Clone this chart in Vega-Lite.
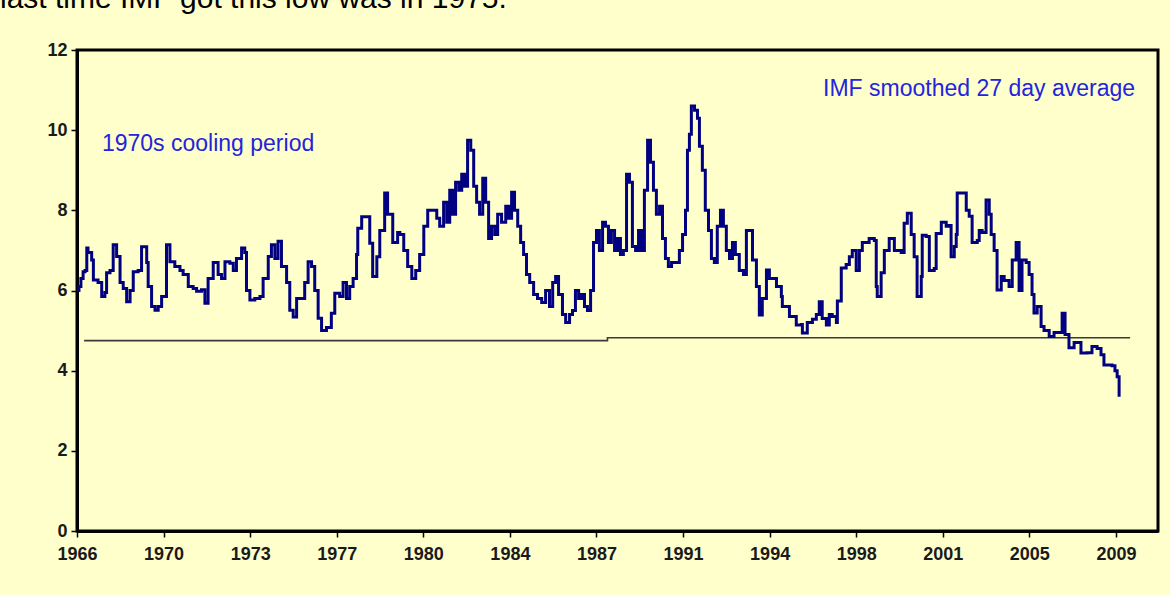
{
  "$schema": "https://vega.github.io/schema/vega-lite/v6.json",
  "width": 1081,
  "height": 481,
  "autosize": {"type": "none"},
  "padding": {"left": 77, "top": 50, "right": 12, "bottom": 64},
  "background": "#FFFFCC",
  "config": {
    "view": {"stroke": "#000000", "strokeWidth": 3},
    "font": "Liberation Sans",
    "axis": {"grid": false, "domainColor": "#000000", "domainWidth": 3, "tickColor": "#000000", "tickWidth": 1.5, "tickSize": 6, "labelFont": "Liberation Sans", "labelFontWeight": "bold", "labelFontSize": 18, "labelColor": "#1a1a1a", "labelFlush": false}
  },
  "title": {
    "text": "last time IMF  got this low was in 1975.",
    "anchor": "start",
    "frame": "group",
    "font": "Liberation Sans",
    "fontSize": 30,
    "fontWeight": "normal",
    "color": "#000000",
    "baseline": "alphabetic",
    "offset": 20,
    "dx": -77,
    "dy": 17
  },
  "layer": [
    {
      "data": {"values": [
        {"t": 1966.84, "v": 4.75}, {"t": 1988.24, "v": 4.75}, {"t": 1988.24, "v": 4.82}, {"t": 2009.61, "v": 4.82}
      ]},
      "mark": {"type": "line", "color": "#3a3a3a", "strokeWidth": 1.6},
      "encoding": {
        "x": {"field": "t", "type": "quantitative", "title": null, "scale": {"domain": [1966.55, 2010.75], "nice": false, "zero": false},
              "axis": {"values": [1966.55, 1970.09, 1973.63, 1977.17, 1980.71, 1984.25, 1987.79, 1991.33, 1994.87, 1998.41, 2001.95, 2005.49, 2009.03], "labelExpr": "toString(floor(datum.value))", "labelPadding": 8}},
        "y": {"field": "v", "type": "quantitative", "title": null, "scale": {"domain": [0, 12], "nice": false},
              "axis": {"values": [0, 2, 4, 6, 8, 10, 12], "format": "d", "labelPadding": 4}}
      }
    },
    {
      "data": {"values": [
        {"t":1966.55,"v":6.0},{"t":1966.63,"v":6.1},{"t":1966.71,"v":6.3},{"t":1966.80,"v":6.47},{"t":1966.88,"v":6.5},{"t":1966.95,"v":7.06},{"t":1967.00,"v":6.95},{"t":1967.15,"v":6.76},{"t":1967.22,"v":6.26},{"t":1967.41,"v":6.2},{"t":1967.56,"v":5.85},{"t":1967.69,"v":5.95},{"t":1967.76,"v":6.44},{"t":1967.90,"v":6.5},{"t":1968.03,"v":7.14},{"t":1968.17,"v":6.85},{"t":1968.31,"v":6.2},{"t":1968.44,"v":6.05},{"t":1968.58,"v":5.72},{"t":1968.72,"v":6.0},{"t":1968.85,"v":6.47},{"t":1969.05,"v":6.5},{"t":1969.19,"v":7.09},{"t":1969.40,"v":6.7},{"t":1969.46,"v":6.1},{"t":1969.60,"v":5.6},{"t":1969.74,"v":5.51},{"t":1969.87,"v":5.6},{"t":1970.01,"v":5.85},{"t":1970.21,"v":7.14},{"t":1970.35,"v":6.72},{"t":1970.55,"v":6.6},{"t":1970.76,"v":6.5},{"t":1970.89,"v":6.4},{"t":1971.10,"v":6.1},{"t":1971.30,"v":6.05},{"t":1971.44,"v":5.98},{"t":1971.64,"v":6.02},{"t":1971.78,"v":5.68},{"t":1971.91,"v":6.3},{"t":1972.12,"v":6.7},{"t":1972.32,"v":6.4},{"t":1972.46,"v":6.3},{"t":1972.60,"v":6.72},{"t":1972.80,"v":6.68},{"t":1972.94,"v":6.5},{"t":1973.07,"v":6.8},{"t":1973.28,"v":7.06},{"t":1973.41,"v":6.95},{"t":1973.48,"v":6.0},{"t":1973.62,"v":5.76},{"t":1973.82,"v":5.8},{"t":1974.03,"v":5.85},{"t":1974.16,"v":6.3},{"t":1974.37,"v":6.85},{"t":1974.50,"v":7.14},{"t":1974.64,"v":6.8},{"t":1974.77,"v":7.23},{"t":1974.91,"v":6.6},{"t":1975.12,"v":6.2},{"t":1975.25,"v":5.51},{"t":1975.39,"v":5.34},{"t":1975.53,"v":5.8},{"t":1975.73,"v":5.8},{"t":1975.86,"v":6.2},{"t":1976.00,"v":6.72},{"t":1976.14,"v":6.6},{"t":1976.27,"v":6.0},{"t":1976.41,"v":5.31},{"t":1976.55,"v":5.0},{"t":1976.75,"v":5.08},{"t":1976.95,"v":5.43},{"t":1977.09,"v":5.93},{"t":1977.29,"v":5.85},{"t":1977.43,"v":6.2},{"t":1977.57,"v":5.8},{"t":1977.70,"v":6.1},{"t":1977.84,"v":6.3},{"t":1977.98,"v":6.9},{"t":1978.03,"v":7.55},{"t":1978.19,"v":7.84},{"t":1978.36,"v":7.84},{"t":1978.52,"v":7.18},{"t":1978.64,"v":6.35},{"t":1978.81,"v":6.84},{"t":1978.93,"v":7.5},{"t":1979.13,"v":8.43},{"t":1979.25,"v":7.9},{"t":1979.46,"v":7.2},{"t":1979.66,"v":7.45},{"t":1979.75,"v":7.4},{"t":1979.91,"v":7.0},{"t":1980.07,"v":6.6},{"t":1980.24,"v":6.3},{"t":1980.40,"v":6.5},{"t":1980.56,"v":6.9},{"t":1980.73,"v":7.6},{"t":1980.89,"v":8.0},{"t":1981.09,"v":8.0},{"t":1981.26,"v":7.8},{"t":1981.38,"v":7.6},{"t":1981.54,"v":8.2},{"t":1981.67,"v":7.7},{"t":1981.79,"v":8.5},{"t":1981.91,"v":7.9},{"t":1982.03,"v":8.7},{"t":1982.16,"v":8.5},{"t":1982.28,"v":8.9},{"t":1982.40,"v":8.6},{"t":1982.52,"v":9.75},{"t":1982.65,"v":9.5},{"t":1982.77,"v":8.6},{"t":1982.89,"v":8.2},{"t":1983.01,"v":7.9},{"t":1983.14,"v":8.8},{"t":1983.26,"v":8.2},{"t":1983.38,"v":7.3},{"t":1983.50,"v":7.6},{"t":1983.63,"v":7.4},{"t":1983.75,"v":7.9},{"t":1983.91,"v":7.7},{"t":1984.08,"v":8.1},{"t":1984.20,"v":7.8},{"t":1984.32,"v":8.45},{"t":1984.44,"v":8.0},{"t":1984.57,"v":7.6},{"t":1984.69,"v":7.2},{"t":1984.81,"v":6.9},{"t":1984.93,"v":6.4},{"t":1985.06,"v":6.2},{"t":1985.22,"v":5.9},{"t":1985.38,"v":5.8},{"t":1985.55,"v":5.7},{"t":1985.71,"v":6.0},{"t":1985.87,"v":5.6},{"t":1986.00,"v":6.2},{"t":1986.12,"v":6.35},{"t":1986.24,"v":5.9},{"t":1986.40,"v":5.4},{"t":1986.53,"v":5.2},{"t":1986.69,"v":5.4},{"t":1986.81,"v":5.5},{"t":1986.93,"v":6.0},{"t":1987.06,"v":5.8},{"t":1987.18,"v":5.9},{"t":1987.30,"v":5.6},{"t":1987.42,"v":5.5},{"t":1987.55,"v":6.0},{"t":1987.67,"v":7.2},{"t":1987.79,"v":7.5},{"t":1987.91,"v":7.0},{"t":1988.04,"v":7.7},{"t":1988.16,"v":7.6},{"t":1988.28,"v":7.2},{"t":1988.40,"v":7.5},{"t":1988.53,"v":7.0},{"t":1988.65,"v":7.3},{"t":1988.77,"v":6.9},{"t":1988.89,"v":7.0},{"t":1989.02,"v":8.9},{"t":1989.14,"v":8.7},{"t":1989.26,"v":7.1},{"t":1989.39,"v":7.0},{"t":1989.51,"v":7.5},{"t":1989.63,"v":7.0},{"t":1989.75,"v":8.5},{"t":1989.88,"v":9.75},{"t":1990.00,"v":9.2},{"t":1990.12,"v":8.5},{"t":1990.24,"v":7.9},{"t":1990.37,"v":8.1},{"t":1990.49,"v":7.3},{"t":1990.61,"v":6.8},{"t":1990.73,"v":6.6},{"t":1990.86,"v":6.7},{"t":1991.02,"v":6.7},{"t":1991.18,"v":7.0},{"t":1991.31,"v":7.4},{"t":1991.43,"v":8.0},{"t":1991.51,"v":9.5},{"t":1991.59,"v":9.9},{"t":1991.67,"v":10.6},{"t":1991.80,"v":10.5},{"t":1991.92,"v":10.3},{"t":1992.00,"v":9.6},{"t":1992.12,"v":9.0},{"t":1992.24,"v":8.0},{"t":1992.37,"v":7.5},{"t":1992.49,"v":6.8},{"t":1992.61,"v":6.7},{"t":1992.73,"v":7.6},{"t":1992.86,"v":8.0},{"t":1992.98,"v":7.6},{"t":1993.10,"v":7.0},{"t":1993.23,"v":6.8},{"t":1993.35,"v":7.2},{"t":1993.47,"v":6.9},{"t":1993.63,"v":6.5},{"t":1993.80,"v":6.4},{"t":1993.92,"v":7.5},{"t":1994.04,"v":7.5},{"t":1994.17,"v":6.76},{"t":1994.33,"v":6.1},{"t":1994.45,"v":5.39},{"t":1994.57,"v":5.8},{"t":1994.74,"v":6.51},{"t":1994.86,"v":6.3},{"t":1995.15,"v":6.1},{"t":1995.35,"v":5.85},{"t":1995.39,"v":5.6},{"t":1995.59,"v":5.6},{"t":1995.68,"v":5.35},{"t":1995.88,"v":5.35},{"t":1995.96,"v":5.14},{"t":1996.17,"v":5.15},{"t":1996.21,"v":4.94},{"t":1996.41,"v":5.2},{"t":1996.62,"v":5.28},{"t":1996.78,"v":5.4},{"t":1996.90,"v":5.72},{"t":1997.02,"v":5.3},{"t":1997.19,"v":5.14},{"t":1997.31,"v":5.4},{"t":1997.43,"v":5.35},{"t":1997.60,"v":5.2},{"t":1997.64,"v":5.74},{"t":1997.80,"v":6.56},{"t":1998.00,"v":6.65},{"t":1998.13,"v":6.84},{"t":1998.25,"v":7.0},{"t":1998.41,"v":6.5},{"t":1998.54,"v":7.0},{"t":1998.66,"v":7.2},{"t":1998.94,"v":7.3},{"t":1999.15,"v":7.25},{"t":1999.23,"v":6.1},{"t":1999.27,"v":5.85},{"t":1999.43,"v":6.44},{"t":1999.56,"v":7.0},{"t":1999.76,"v":7.3},{"t":1999.97,"v":7.0},{"t":2000.25,"v":6.95},{"t":2000.37,"v":7.68},{"t":2000.50,"v":7.93},{"t":2000.66,"v":7.4},{"t":2000.78,"v":6.84},{"t":2000.90,"v":5.85},{"t":2001.07,"v":6.35},{"t":2001.11,"v":7.38},{"t":2001.27,"v":7.35},{"t":2001.40,"v":6.5},{"t":2001.60,"v":6.55},{"t":2001.68,"v":7.42},{"t":2001.89,"v":7.7},{"t":2002.09,"v":7.6},{"t":2002.21,"v":7.62},{"t":2002.29,"v":6.84},{"t":2002.42,"v":7.1},{"t":2002.50,"v":7.4},{"t":2002.54,"v":8.43},{"t":2002.74,"v":8.43},{"t":2002.91,"v":8.0},{"t":2003.03,"v":7.85},{"t":2003.15,"v":7.2},{"t":2003.36,"v":7.25},{"t":2003.44,"v":7.5},{"t":2003.56,"v":7.45},{"t":2003.72,"v":8.26},{"t":2003.85,"v":7.9},{"t":2003.93,"v":7.4},{"t":2004.05,"v":7.0},{"t":2004.17,"v":6.01},{"t":2004.34,"v":6.35},{"t":2004.46,"v":6.25},{"t":2004.66,"v":6.1},{"t":2004.79,"v":6.76},{"t":2004.95,"v":7.2},{"t":2005.07,"v":6.0},{"t":2005.19,"v":6.76},{"t":2005.36,"v":6.7},{"t":2005.48,"v":6.4},{"t":2005.60,"v":5.9},{"t":2005.68,"v":5.44},{"t":2005.81,"v":5.6},{"t":2005.97,"v":5.1},{"t":2006.09,"v":5.0},{"t":2006.30,"v":4.85},{"t":2006.50,"v":4.95},{"t":2006.71,"v":4.95},{"t":2006.83,"v":5.43},{"t":2006.95,"v":4.9},{"t":2007.11,"v":4.57},{"t":2007.32,"v":4.7},{"t":2007.60,"v":4.44},{"t":2007.85,"v":4.45},{"t":2008.05,"v":4.6},{"t":2008.26,"v":4.55},{"t":2008.42,"v":4.4},{"t":2008.54,"v":4.14},{"t":2008.87,"v":4.12},{"t":2008.99,"v":4.0},{"t":2009.08,"v":3.85},{"t":2009.16,"v":3.35}
      ]},
      "mark": {"type": "line", "color": "#000080", "strokeWidth": 3, "interpolate": "step-after"},
      "encoding": {
        "x": {"field": "t", "type": "quantitative", "title": null},
        "y": {"field": "v", "type": "quantitative", "title": null}
      }
    },
    {
      "data": {"values": [{"t": 1967.57, "v": 9.65, "label": "1970s cooling period"}]},
      "mark": {"type": "text", "align": "left", "baseline": "middle", "color": "#2424DC", "fontSize": 23, "font": "Liberation Sans"},
      "encoding": {
        "x": {"field": "t", "type": "quantitative", "title": null},
        "y": {"field": "v", "type": "quantitative", "title": null},
        "text": {"field": "label"}
      }
    },
    {
      "data": {"values": [{"t": 2009.81, "v": 11.03, "label": "IMF smoothed 27 day average"}]},
      "mark": {"type": "text", "align": "right", "baseline": "middle", "color": "#2424DC", "fontSize": 23, "font": "Liberation Sans"},
      "encoding": {
        "x": {"field": "t", "type": "quantitative", "title": null},
        "y": {"field": "v", "type": "quantitative", "title": null},
        "text": {"field": "label"}
      }
    }
  ]
}
